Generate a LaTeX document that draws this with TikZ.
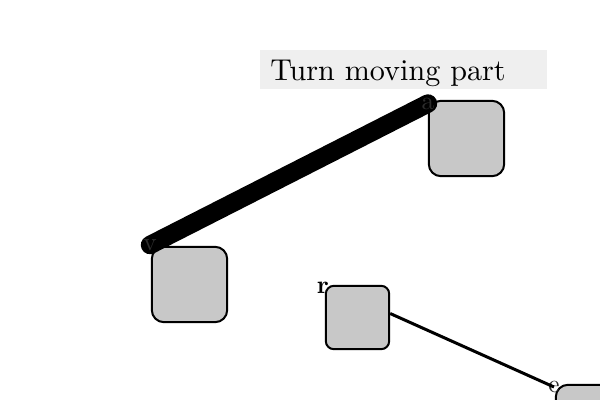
\documentclass[tikz,border=0pt]{standalone}
\usepackage{fontspec}
\newfontfamily\lmten{lmroman10-regular.otf}[BoldFont=lmroman10-bold.otf]
\definecolor{titlebg}{RGB}{239,239,239}
\definecolor{boxfill}{RGB}{200,200,200}
\definecolor{labelgray}{RGB}{45,45,45}
\tikzset{
  partbox/.style={draw=black, line width=1.5pt, fill=boxfill, rounded corners=9pt, inner sep=0pt, minimum size=56.5pt},
  smallbox/.style={partbox, rounded corners=6pt, minimum size=47.5pt},
  lbl/.style={inner sep=0pt, text=labelgray, font=\lmten\fontsize{19}{22}\selectfont},
  heavylink/.style={line width=13.8pt, line cap=round, draw=black},
  lightlink/.style={line width=2.25pt, draw=black},
  titletext/.style={anchor=base west, inner sep=0pt, font=\lmten\fontsize{22.6}{26}\selectfont}
}
\begin{document}
\begin{tikzpicture}[x=0.75pt,y=-0.75pt]
\useasboundingbox (0,0) rectangle (600,400);
\clip (0,0) rectangle (600,400);
\fill[titlebg] (260,50) rectangle (547,89);
\node[titletext] (title) at (270,80) {Turn moving part};
\node[partbox] (A) at (466.5,138.5) {};
\node[partbox] (V) at (189.5,284.5) {};
\node[smallbox] (R) at (357.5,317.5) {};
\node[partbox] (E) at (593.5,422.5) {};
\coordinate (acen) at (428,103.5);
\coordinate (vcen) at (150,245);
\draw[heavylink] (vcen) -- (acen);
\node[lbl] (a) at (acen) {a};
\node[lbl] (v) at (vcen) {v};
\node[lbl, text=black, font=\lmten\fontsize{19}{22}\selectfont\bfseries] (r) at (323,288) {r};
\node[lbl] (e) at (554,387) {e};
\draw[lightlink] ([yshift=3pt]R.east) -- (e.center);
\end{tikzpicture}
\end{document}
